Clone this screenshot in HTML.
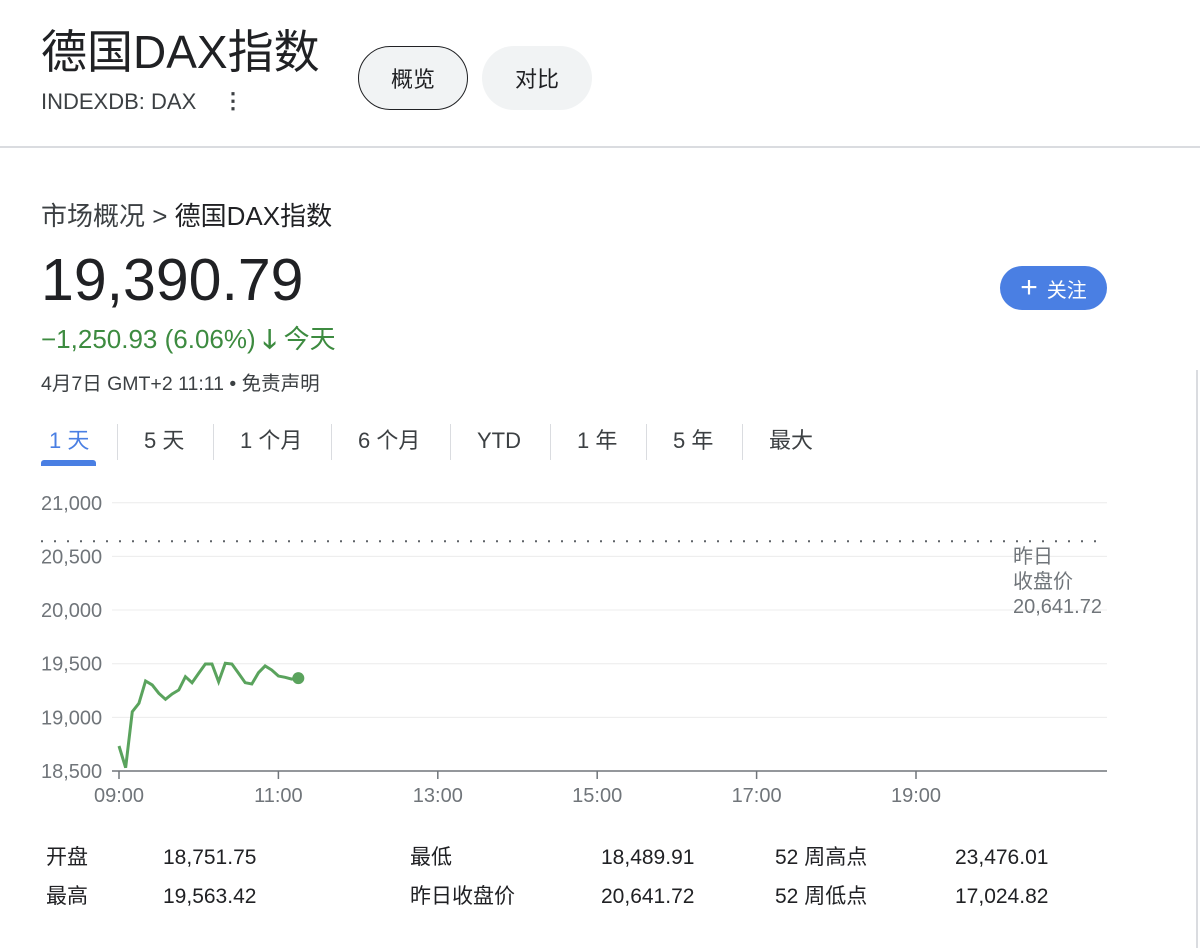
<!DOCTYPE html>
<html><head><meta charset="utf-8"><style>
body{margin:0;width:1200px;height:948px;background:#fff;position:relative;overflow:hidden;font-family:"Liberation Sans","Noto Sans CJK SC",sans-serif;color:#202124}
.a{position:absolute;white-space:nowrap}
.btn{position:absolute;border-radius:32px;background:#f1f3f4;font-size:22px;display:flex;align-items:center;justify-content:center;box-sizing:border-box}
.tab{position:absolute;top:426px;font-size:22px;color:#3c4043;line-height:30px}
.sep{position:absolute;top:424px;width:1px;height:36px;background:#dadce0}
.st{position:absolute;font-size:21px;color:#202124;line-height:24px}
</style></head><body>
<div class="a" style="left:41px;top:24px;font-size:46px;line-height:56px">德国DAX指数</div>
<div class="a" style="left:41px;top:89px;font-size:22px;color:#3c4043">INDEXDB: DAX</div>
<div class="a" style="left:222px;top:96px;font-size:22px;font-weight:bold;color:#3c4043;line-height:10px;width:14px;text-align:center">⋮</div>
<div class="btn" style="left:358px;top:46px;width:110px;height:64px;border:1.5px solid #202124">概览</div>
<div class="btn" style="left:482px;top:46px;width:110px;height:64px">对比</div>
<div class="a" style="left:0;top:146px;width:1200px;height:2px;background:#dadce0"></div>
<div class="a" style="left:1196px;top:370px;width:2px;height:578px;background:#dadce0"></div>
<div class="a" style="left:41px;top:196px;font-size:26px;color:#3c4043">市场概况 &gt; <span style="color:#202124">德国DAX指数</span></div>
<div class="a" style="left:41px;top:247px;font-size:59px;line-height:66px">19,390.79</div>
<div class="a" style="left:41px;top:319px;font-size:26px;color:#3d8b40">−1,250.93 (6.06%) <span style="font-weight:bold">🡓</span> 今天</div>
<div class="a" style="left:41px;top:367px;font-size:19.5px;color:#3c4043">4月7日 GMT+2 11:11 • 免责声明</div>
<div class="a" style="left:1000px;top:266px;width:107px;height:44px;border-radius:22px;background:#4a7fe3;color:#fff;font-size:20px;display:flex;align-items:center;justify-content:center"><span style="font-size:30px;margin-right:9px;line-height:20px">+</span>关注</div>
<div class="tab" style="left:49px;color:#4a7fe3">1 天</div>
<div class="a" style="left:41px;top:460px;width:55px;height:6px;border-radius:3px 3px 0 0;background:#4a7fe3"></div>
<div class="sep" style="left:117px"></div>
<div class="tab" style="left:144px">5 天</div>
<div class="sep" style="left:213px"></div>
<div class="tab" style="left:240px">1 个月</div>
<div class="sep" style="left:331px"></div>
<div class="tab" style="left:358px">6 个月</div>
<div class="sep" style="left:450px"></div>
<div class="tab" style="left:477px">YTD</div>
<div class="sep" style="left:550px"></div>
<div class="tab" style="left:577px">1 年</div>
<div class="sep" style="left:646px"></div>
<div class="tab" style="left:673px">5 年</div>
<div class="sep" style="left:742px"></div>
<div class="tab" style="left:769px">最大</div>

<svg id="chart" class="a" style="left:0;top:480px" width="1200" height="340" viewBox="0 480 1200 340" font-family="Liberation Sans, Noto Sans CJK SC, sans-serif"></svg>

<div class="st" style="left:46px;top:846px">开盘</div>
<div class="st" style="left:163px;top:846px">18,751.75</div>
<div class="st" style="left:410px;top:846px">最低</div>
<div class="st" style="left:601px;top:846px">18,489.91</div>
<div class="st" style="left:775px;top:846px">52 周高点</div>
<div class="st" style="left:955px;top:846px">23,476.01</div>
<div class="st" style="left:46px;top:885px">最高</div>
<div class="st" style="left:163px;top:885px">19,563.42</div>
<div class="st" style="left:410px;top:885px">昨日收盘价</div>
<div class="st" style="left:601px;top:885px">20,641.72</div>
<div class="st" style="left:775px;top:885px">52 周低点</div>
<div class="st" style="left:955px;top:885px">17,024.82</div>

<script>
const yTicks=[21000,20500,20000,19500,19000,18500];
const yTickLabels=["21,000","20,500","20,000","19,500","19,000","18,500"];
const xTicks=[9,11,13,15,17,19];
const xTickLabels=["09:00","11:00","13:00","15:00","17:00","19:00"];
const startHour=9;
const stepMinutes=5;
const prices=[18733,18531,19053,19131,19339,19302,19224,19168,19218,19255,19379,19323,19411,19497,19497,19332,19504,19497,19411,19323,19311,19416,19479,19441,19385,19373,19357,19365];
const prevClose=20641.72;
const prevCloseLabel="20,641.72";

const NS="http://www.w3.org/2000/svg";
const svg=document.getElementById('chart');
const yScale=v=>771-(v-18500)*0.1073;
const xScale=h=>119+(h-9)*79.7;
function mk(t,at){const e=document.createElementNS(NS,t);for(const k in at)e.setAttribute(k,at[k]);svg.appendChild(e);return e;}
yTicks.forEach((v,i)=>{
  const y=yScale(v);
  if(i<yTicks.length-1){const g=mk('line',{x1:112,x2:1107,y1:y,y2:y,stroke:'#ececec','stroke-width':1});
  
  }
  const t=mk('text',{x:41,y:y+7,'font-size':20,fill:'#70757a'});
  
  
  t.textContent=yTickLabels[i];
});
const ax=mk('line',{x1:112,x2:1107,y1:yScale(18500),y2:yScale(18500),stroke:'#70757a','stroke-width':1.5});


xTicks.forEach((h,i)=>{
  const x=xScale(h);
  const tk=mk('line',{x1:x,x2:x,y1:771,y2:779,stroke:'#70757a','stroke-width':1.5});
  
  
  const t=mk('text',{x:x,y:802,'font-size':20,fill:'#70757a','text-anchor':'middle'});
  
  
  t.textContent=xTickLabels[i];
});
const py=yScale(prevClose);
const pl=mk('line',{x1:41,x2:1107,y1:py,y2:py,stroke:'#5f6368','stroke-width':2,'stroke-dasharray':'2 11'});


["昨日","收盘价",prevCloseLabel].forEach((s,i)=>{
  const t=mk('text',{x:1013,y:py+22+i*25,'font-size':20,fill:'#70757a'});
  
  
  t.textContent=s;
});
const pts=prices.map((v,i)=>[xScale(startHour+i*stepMinutes/60),yScale(v)]);
const line=mk('polyline',{points:pts.map(p=>p.join(',')).join(' '),fill:'none',stroke:'#5aa35d','stroke-width':3,'stroke-linejoin':'miter'});


const last=pts[pts.length-1];
const dot=mk('circle',{cx:last[0],cy:last[1],r:6,fill:'#5aa35d'});


</script>
</body></html>
